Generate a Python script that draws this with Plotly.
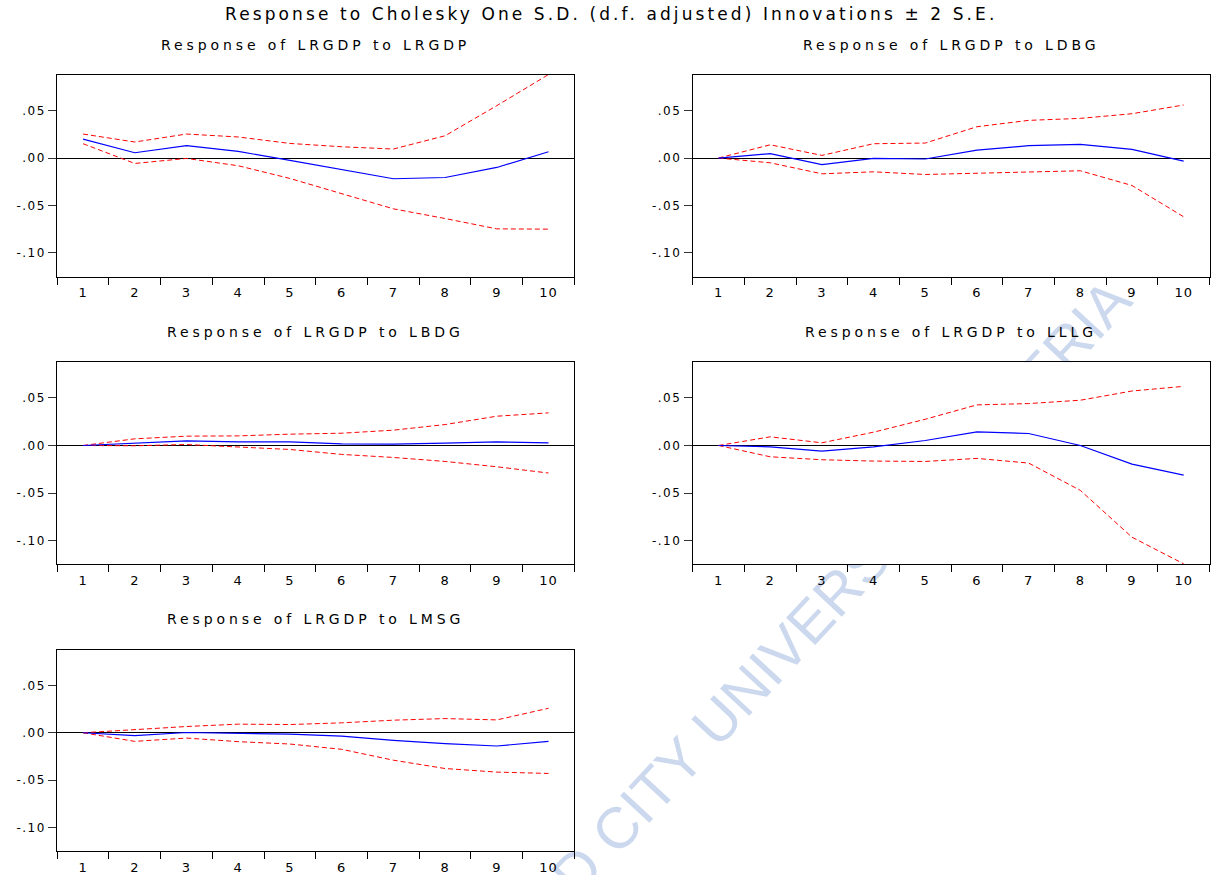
import plotly.graph_objects as go

# ---------------- data ----------------
periods = list(range(1, 11))
period_labels = [str(p) for p in periods]

panel_titles = [
    "Response of LRGDP to LRGDP",
    "Response of LRGDP to LDBG",
    "Response of LRGDP to LBDG",
    "Response of LRGDP to LLLG",
    "Response of LRGDP to LMSG",
]

# Response of LRGDP to LRGDP
lrgdp_resp = [0.0200, 0.0056, 0.0130, 0.0070, -0.0025, -0.0123, -0.0218, -0.0205, -0.0099, 0.0066]
lrgdp_upper = [0.0253, 0.0169, 0.0253, 0.0222, 0.0154, 0.0119, 0.0095, 0.0235, 0.0552, 0.0880]
lrgdp_lower = [0.0151, -0.0057, -0.0004, -0.0081, -0.0215, -0.0377, -0.0535, -0.0637, -0.0746, -0.0749]

# Response of LRGDP to LDBG
ldbg_resp = [0.0000, 0.0046, -0.0070, -0.0004, -0.0010, 0.0084, 0.0130, 0.0144, 0.0091, -0.0032]
ldbg_upper = [0.0000, 0.0140, 0.0028, 0.0151, 0.0158, 0.0330, 0.0397, 0.0418, 0.0467, 0.0559]
ldbg_lower = [0.0000, -0.0050, -0.0166, -0.0145, -0.0173, -0.0158, -0.0141, -0.0134, -0.0289, -0.0619]

# Response of LRGDP to LBDG
lbdg_resp = [0.0000, 0.0028, 0.0049, 0.0038, 0.0038, 0.0017, 0.0014, 0.0024, 0.0038, 0.0028]
lbdg_upper = [0.0000, 0.0070, 0.0098, 0.0101, 0.0119, 0.0129, 0.0161, 0.0220, 0.0308, 0.0343]
lbdg_lower = [0.0000, -0.0003, 0.0010, -0.0014, -0.0042, -0.0094, -0.0126, -0.0168, -0.0224, -0.0290]

# Response of LRGDP to LLLG
lllg_resp = [0.0000, -0.0014, -0.0059, -0.0014, 0.0052, 0.0143, 0.0126, 0.0000, -0.0196, -0.0311]
lllg_upper = [0.0000, 0.0091, 0.0028, 0.0140, 0.0276, 0.0427, 0.0441, 0.0476, 0.0573, 0.0622]
lllg_lower = [0.0000, -0.0119, -0.0150, -0.0164, -0.0168, -0.0136, -0.0185, -0.0472, -0.0965, -0.1245]

# Response of LRGDP to LMSG
lmsg_resp = [0.0000, -0.0031, 0.0003, -0.0003, -0.0014, -0.0035, -0.0080, -0.0115, -0.0140, -0.0091]
lmsg_upper = [0.0000, 0.0035, 0.0066, 0.0091, 0.0087, 0.0105, 0.0133, 0.0150, 0.0136, 0.0259]
lmsg_lower = [0.0000, -0.0091, -0.0056, -0.0094, -0.0119, -0.0175, -0.0290, -0.0378, -0.0416, -0.0430]

y_tick_vals = [-0.10, -0.05, 0.0, 0.05]
y_tick_text = ["-.10", "-.05", ".00", ".05"]

main_title = "Response to Cholesky One S.D. (d.f. adjusted) Innovations \u00b1 2 S.E."
watermark_text = "LEAD CITY UNIVERSITY, NIGERIA"

panels = [
    (lrgdp_resp, lrgdp_upper, lrgdp_lower),
    (ldbg_resp, ldbg_upper, ldbg_lower),
    (lbdg_resp, lbdg_upper, lbdg_lower),
    (lllg_resp, lllg_upper, lllg_lower),
    (lmsg_resp, lmsg_upper, lmsg_lower),
]

# ---------------- layout geometry ----------------
W, H = 1211, 875
FONT = "DejaVu Sans"

def px_x(v):
    return v / W

def px_y(v):
    return 1 - v / H

col_x = [(57.2, 574.4), (692.7, 1209.5)]
row_y = [(75.0, 276.7), (362.3, 564.3), (650.0, 851.0)]
title_y = [45, 332, 619]
positions = [(0, 0), (1, 0), (0, 1), (1, 1), (0, 2)]

def spaced(text, px):
    return f'<span style="letter-spacing:{px}px">{text}</span>'

fig = go.Figure()
layout = dict(
    width=W, height=H,
    margin=dict(l=0, r=0, t=0, b=0),
    paper_bgcolor="white", plot_bgcolor="white",
    showlegend=False,
    font=dict(family=FONT, color="black"),
)
annotations = []
shapes = []

# watermark (light, drawn beneath the panels)
wm_cx, wm_cy = 800.0, 624.0
shapes.append(dict(
    type="rect", xref="paper", yref="paper", layer="below",
    x0=px_x(wm_cx - 1), x1=px_x(wm_cx + 1), y0=px_y(wm_cy + 1), y1=px_y(wm_cy - 1),
    line=dict(width=0), fillcolor="rgba(0,0,0,0)",
    label=dict(text=watermark_text, textangle=-47, textposition="middle center",
               font=dict(family="Liberation Sans", size=58, color="rgb(203,216,238)")),
))

for i, ((resp, up, lo), title, (c, r)) in enumerate(zip(panels, panel_titles, positions)):
    n = "" if i == 0 else str(i + 1)
    xa, ya = "x" + n, "y" + n
    x0, x1 = col_x[c]
    yt, yb = row_y[r]
    fig.add_trace(go.Scatter(x=periods, y=up, xaxis=xa, yaxis=ya, mode="lines",
                             line=dict(color="#ff0000", width=1, dash="5px,3px"), hoverinfo="skip"))
    fig.add_trace(go.Scatter(x=periods, y=lo, xaxis=xa, yaxis=ya, mode="lines",
                             line=dict(color="#ff0000", width=1, dash="5px,3px"), hoverinfo="skip"))
    fig.add_trace(go.Scatter(x=periods, y=resp, xaxis=xa, yaxis=ya, mode="lines",
                             line=dict(color="#0000ff", width=1.2), hoverinfo="skip"))
    layout["xaxis" + n] = dict(
        domain=[px_x(x0), px_x(x1)], anchor=ya, range=[0.5, 10.5],
        tickmode="array", tickvals=periods,
        ticktext=[spaced(t, 1) for t in period_labels],
        ticks="outside", ticklen=4, tickcolor="rgba(0,0,0,0)",
        tickfont=dict(family=FONT, size=13, color="black"),
        minor=dict(tickmode="array", tickvals=[p - 0.5 for p in periods] + [10.5],
                   ticks="outside", ticklen=7, tickcolor="black", tickwidth=1, showgrid=False),
        showline=True, mirror=True, linecolor="black", linewidth=1,
        showgrid=False, zeroline=False, fixedrange=True,
    )
    layout["yaxis" + n] = dict(
        domain=[px_y(yb), px_y(yt)], anchor=xa, range=[-0.125, 0.0875],
        tickmode="array", tickvals=y_tick_vals,
        ticktext=[spaced(t, 1.5) for t in y_tick_text],
        ticks="outside", ticklen=8, tickcolor="#333333", tickwidth=1,
        tickfont=dict(family=FONT, size=12, color="black"),
        showline=True, mirror=True, linecolor="black", linewidth=1,
        showgrid=False, zeroline=True, zerolinecolor="black", zerolinewidth=1,
        fixedrange=True,
    )
    # white panel background covering the watermark
    shapes.append(dict(type="rect", xref=xa + " domain", yref=ya + " domain", layer="below",
                       x0=0, x1=1, y0=0, y1=1, fillcolor="white", line=dict(width=0)))
    annotations.append(dict(
        text=spaced(title, 3.9), xref="paper", yref="paper",
        x=px_x((x0 + x1) / 2), y=px_y(title_y[r]), xanchor="center", yanchor="middle",
        showarrow=False, font=dict(family=FONT, size=14, color="black"),
    ))

annotations.append(dict(
    text=spaced(main_title, 3.1), xref="paper", yref="paper",
    x=px_x(611), y=px_y(14), xanchor="center", yanchor="middle",
    showarrow=False, font=dict(family=FONT, size=17, color="black"),
))

layout["annotations"] = annotations
layout["shapes"] = shapes
fig.update_layout(**layout)
fig.write_html(
    "out.html",
    config={"displayModeBar": False, "staticPlot": True},
    post_script="document.body.style.margin='0';document.body.style.overflow='hidden';",
)
